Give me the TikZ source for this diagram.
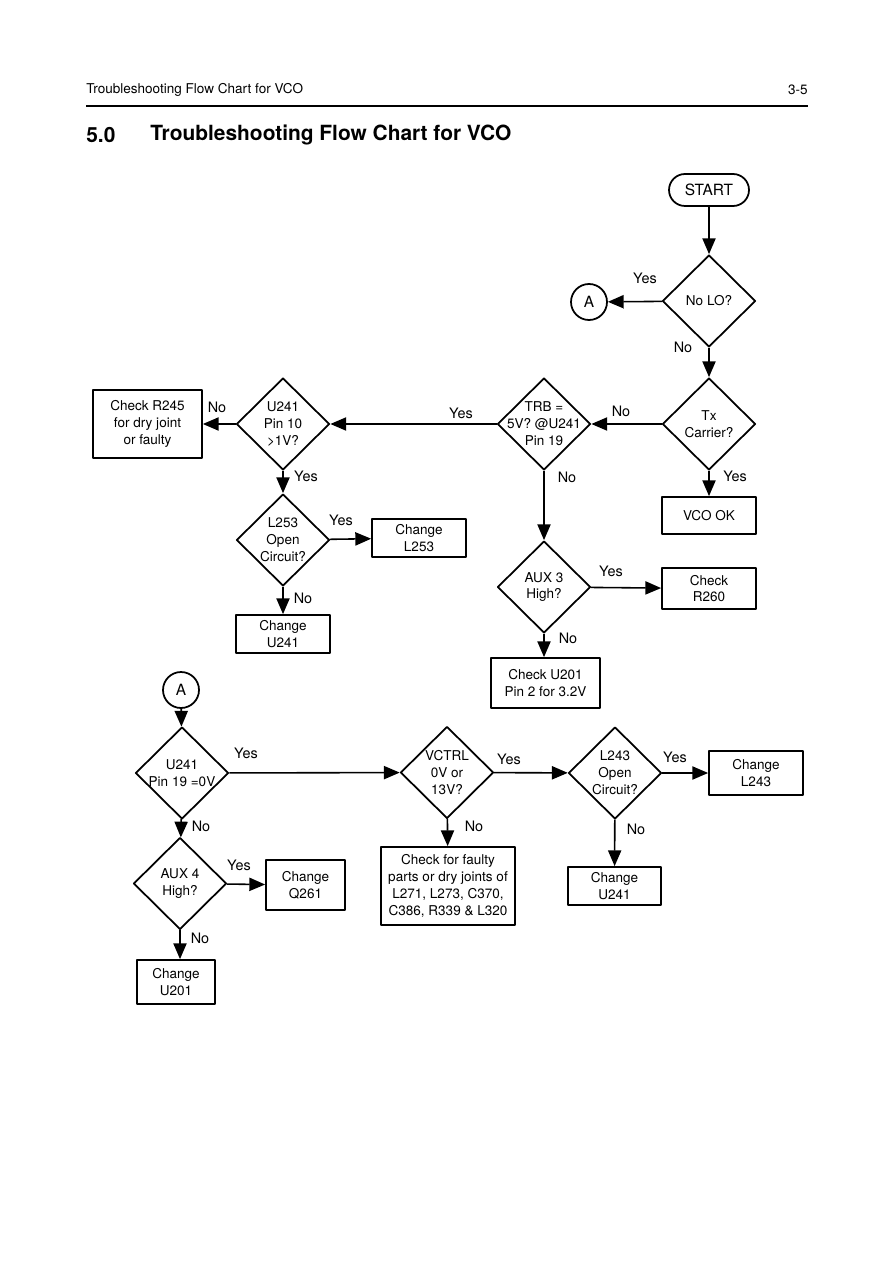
\documentclass[tikz,border=0pt]{standalone}
\usepackage{fontspec}
\setmainfont{TeX Gyre Heros}
\usepackage{tikz}
\usetikzlibrary{arrows.meta,shapes.geometric}
\newcommand\chartfont{\fontsize{7.7}{9.6}\selectfont}
\newcommand\bigfont{\fontsize{8.8}{10}\selectfont}
\newcommand\labfont{\fontsize{8.2}{9.6}\selectfont}
\newcommand\headfont{\fontsize{11.9}{14}\selectfont\bfseries}
\tikzset{
  every picture/.style={line join=round, >={Triangle[length=9pt,width=7.5pt]}},
  box/.style 2 args={draw, line width=1pt, align=center, inner sep=1pt, font=\chartfont, minimum width=#1, minimum height=#2},
  ask/.style={diamond, aspect=1, draw, line width=1pt, align=center, font=\chartfont, inner sep=-4pt, minimum width=1.86cm, minimum height=1.84cm},
  term/.style={draw, rounded corners=0.32cm, line width=1pt, font=\bigfont, minimum width=1.6cm, minimum height=0.64cm},
  conn/.style={circle, draw, line width=1pt, font=\bigfont, inner sep=0pt, minimum size=0.72cm},
  lab/.style={font=\labfont, inner sep=0pt},
  flow/.style={->, line width=0.9pt},
}

\begin{document}
\begin{tikzpicture}[x=0.02cm,y=-0.02cm]
\useasboundingbox (0,0) rectangle (892,1263);
\node[anchor=west,inner sep=0pt,font=\chartfont] (hd) at (86,90) {Troubleshooting Flow Chart for VCO};
\node[anchor=east,inner sep=0pt,font=\chartfont] (pg) at (808,90) {3-5};
\draw[line width=1.1pt] (86,106) -- (808,106);
\node[anchor=west,inner sep=0pt,font=\headfont] (secno) at (86,135) {5.0};
\node[anchor=west,inner sep=0pt,font=\headfont] (ttl) at (150,135) {Troubleshooting Flow Chart for VCO};

\node[term] (start) at (709,190) {START};
\node[ask] (nolo) at (709,301) {No LO?};
\node[conn] (ca) at (589,302) {A};
\node[ask] (tx) at (709,424) {Tx\\Carrier?};
\node[box={1.88cm}{0.74cm}] (vcook) at (709,515.5) {VCO OK};
\node[ask] (trb) at (544,424) {TRB =\\5V? @U241\\Pin 19};
\node[ask] (p10) at (283,424) {U241\\Pin 10\\>1V?};
\node[box={2.18cm}{1.36cm}] (r245) at (147.5,424) {Check R245\\for dry joint\\or faulty};
\node[ask] (l253) at (283,540) {L253\\Open\\Circuit?};
\node[box={1.88cm}{0.76cm}] (chl253) at (419,538) {Change\\L253};
\node[box={1.88cm}{0.76cm}] (chu241a) at (283,634) {Change\\U241};
\node[ask] (aux3) at (544,587) {AUX 3\\High?};
\node[box={1.88cm}{0.82cm}] (r260) at (709,588.5) {Check\\R260};
\node[box={2.18cm}{1.0cm}] (u201) at (545.5,683) {Check U201\\Pin 2 for 3.2V};

\node[conn] (cb) at (181,690) {A};
\node[ask] (p19) at (182,773) {U241\\Pin 19 =0V};
\node[ask] (vctrl) at (447,772.5) {VCTRL\\0V or\\13V?};
\node[ask] (l243) at (615,773) {L243\\Open\\Circuit?};
\node[box={1.88cm}{0.88cm}] (chl243) at (756,773) {Change\\L243};
\node[box={1.86cm}{0.76cm}] (chu241b) at (614.5,886) {Change\\U241};
\node[box={2.68cm}{1.56cm}] (faulty) at (448,886) {Check for faulty\\parts or dry joints of\\L271, L273, C370,\\C386, R339 \& L320};
\node[ask] (aux4) at (180,883.5) {AUX 4\\High?};
\node[box={1.58cm}{1.0cm}] (q261) at (305.5,885) {Change\\Q261};
\node[box={1.56cm}{0.88cm}] (chu201) at (176,982) {Change\\U201};

\draw[flow] (start) -- (nolo);
\draw[flow] (nolo) -- (ca);
\draw[flow] (nolo) -- (tx);
\draw[flow] (tx) -- (trb);
\draw[flow] (tx) -- (vcook);
\draw[flow] (trb) -- (p10);
\draw[flow] (trb) -- (aux3);
\draw[flow] (p10) -- (r245);
\draw[flow] (p10) -- (l253);
\draw[flow] (l253) -- (chl253);
\draw[flow] (l253) -- (chu241a);
\draw[flow] (aux3) -- (r260);
\draw[flow] (aux3.south) -- (aux3.south |- u201.north);
\draw[flow] (cb) -- (p19);
\draw[flow] (p19) -- (vctrl);
\draw[flow] (p19) -- (aux4);
\draw[flow] (vctrl) -- (l243);
\draw[flow] (vctrl) -- (faulty);
\draw[flow] (l243) -- (chl243);
\draw[flow] (l243) -- (chu241b);
\draw[flow] (aux4) -- (q261);
\draw[flow] (aux4.south) -- (aux4.south |- chu201.north);

\node[lab] (ylo) at (645,278) {Yes};
\node[lab] (nlo) at (683,347) {No};
\node[lab] (ntx) at (621,411) {No};
\node[lab] (ytx) at (735,476) {Yes};
\node[lab] (ytrb) at (461,413) {Yes};
\node[lab] (ntrb) at (567,477) {No};
\node[lab] (np10) at (217,407) {No};
\node[lab] (yp10) at (306,476) {Yes};
\node[lab] (yl253) at (341,520) {Yes};
\node[lab] (nl253) at (303,598) {No};
\node[lab] (yaux3) at (611,571) {Yes};
\node[lab] (naux3) at (568,638) {No};
\node[lab] (yp19) at (246,753) {Yes};
\node[lab] (np19) at (201,826) {No};
\node[lab] (yvc) at (509,759) {Yes};
\node[lab] (nvc) at (474,826) {No};
\node[lab] (yl243) at (675,757) {Yes};
\node[lab] (nl243) at (636,829) {No};
\node[lab] (yaux4) at (239,865) {Yes};
\node[lab] (naux4) at (200,938) {No};
\end{tikzpicture}
\end{document}
